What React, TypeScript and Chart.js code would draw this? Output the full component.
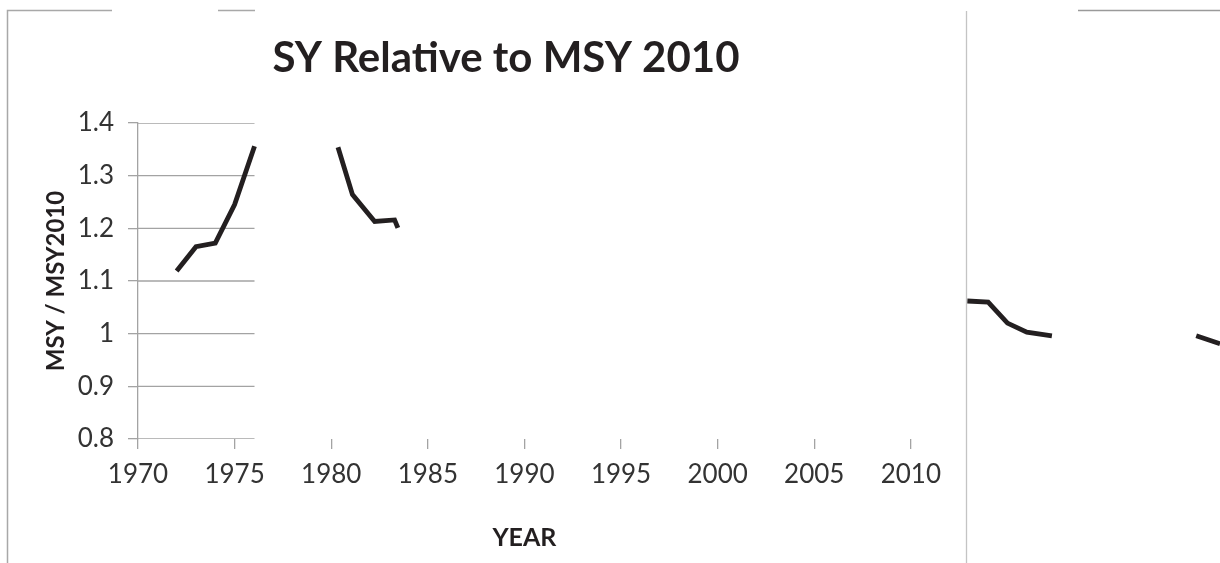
import React, { useEffect, useRef } from "react";
import { Chart, registerables } from "chart.js";

Chart.register(...registerables);

// ---- data ----
// visible line fragments (null = hidden gap)
const years: number[] = [
  1972, 1973, 1974, 1975, 1976.03,
  1978,
  1980.35, 1981.1, 1982.25, 1983.28, 1983.45,
  2000,
  2012.92, 2014, 2015, 2016, 2017.3,
  2020,
  2024.77, 2026,
];
const syRatio: (number | null)[] = [
  1.119, 1.165, 1.172, 1.245, 1.356,
  null,
  1.354, 1.264, 1.213, 1.216, 1.201,
  null,
  1.062, 1.06, 1.02, 1.003, 0.996,
  null,
  0.996, 0.981,
];
const yTickValues: number[] = [0.8, 0.9, 1.0, 1.1, 1.2, 1.3, 1.4];
const xTickYears: number[] = [1970, 1975, 1980, 1985, 1990, 1995, 2000, 2005, 2010];
const gridEndYear = 1976.03;

const TITLE = "SY Relative to MSY 2010";
const X_TITLE = "YEAR";
const Y_TITLE = "MSY / MSY2010";

const FONT = "Lato, 'Open Sans', sans-serif";
const GRID = "#a3a3a3";

const decorPlugin = {
  id: "decor",
  beforeDraw(chart: any) {
    const { ctx, width } = chart;
    ctx.save();
    ctx.fillStyle = "#ffffff";
    ctx.fillRect(0, 0, width, chart.height);
    ctx.restore();
  },
  afterDraw(chart: any) {
    const { ctx, height } = chart;
    const xs = chart.scales.x;
    ctx.save();
    // frame fragments
    ctx.strokeStyle = "#a8a8a8";
    ctx.lineWidth = 1.5;
    ctx.beginPath();
    ctx.moveTo(7.5, height);
    ctx.lineTo(7.5, 10.5);
    ctx.lineTo(112, 10.5);
    ctx.moveTo(218, 10.5);
    ctx.lineTo(255, 10.5);
    ctx.stroke();
    ctx.strokeStyle = "#c4c4c4";
    ctx.lineWidth = 1.3;
    ctx.beginPath();
    ctx.moveTo(966.5, 11);
    ctx.lineTo(966.5, height);
    ctx.stroke();
    ctx.strokeStyle = "#9a9a9a";
    ctx.lineWidth = 1.3;
    ctx.beginPath();
    ctx.moveTo(1078, 10.5);
    ctx.lineTo(chart.width, 10.5);
    ctx.stroke();

    // chart title
    ctx.fillStyle = "#231f20";
    ctx.textAlign = "center";
    ctx.textBaseline = "middle";
    ctx.font = `bold 42px ${FONT}`;
    ctx.fillText(TITLE, 506, 58);

    // x axis title, centred under the tick range
    const cx =
      (xs.getPixelForValue(xTickYears[0]) +
        xs.getPixelForValue(xTickYears[xTickYears.length - 1])) / 2;
    ctx.font = `bold 25px ${FONT}`;
    ctx.fillText(X_TITLE, cx, 538);
    ctx.restore();
  },
};

export default function App() {
  const ref = useRef<HTMLCanvasElement | null>(null);

  useEffect(() => {
    if (!ref.current) return;
    const points = years.map((x, i) => ({ x, y: syRatio[i] }));
    const gridSets = yTickValues.map((v) => ({
      type: "line" as const,
      data: [
        { x: xTickYears[0], y: v },
        { x: gridEndYear, y: v },
      ],
      borderColor: GRID,
      borderWidth: 1.3,
      pointRadius: 0,
      tension: 0,
    }));

    const chart = new Chart(ref.current, {
      type: "line",
      data: {
        datasets: [
          {
            data: points as any,
            borderColor: "#231f20",
            borderWidth: 4.8,
            pointRadius: 0,
            tension: 0,
            spanGaps: false,
            borderJoinStyle: "miter",
            borderCapStyle: "butt",
          },
          ...(gridSets as any),
        ],
      },
      options: {
        responsive: false,
        animation: false,
        events: [],
        layout: { padding: { top: 123, left: 0, right: 0, bottom: 0 } },
        plugins: {
          legend: { display: false },
          title: { display: false },
          tooltip: { enabled: false },
        },
        scales: {
          x: {
            type: "linear",
            min: 1970,
            max: 2026,
            afterBuildTicks: (scale: any) => {
              scale.ticks = xTickYears.map((v) => ({ value: v }));
            },
            afterFit: (scale: any) => {
              scale.height = 124;
            },
            border: { display: false },
            grid: {
              drawOnChartArea: false,
              drawTicks: true,
              tickLength: 10,
              color: GRID,
              lineWidth: 1.3,
            },
            ticks: {
              font: { family: FONT, size: 26 },
              color: "#333333",
              padding: 10,
              maxRotation: 0,
              callback: (v: any) => String(v),
            },
          },
          y: {
            min: 0.8,
            max: 1.4,
            afterBuildTicks: (scale: any) => {
              scale.ticks = yTickValues.map((v) => ({ value: v }));
            },
            afterFit: (scale: any) => {
              scale.width = 138;
            },
            border: { display: true, color: GRID, width: 1.3 },
            grid: {
              drawOnChartArea: false,
              drawTicks: true,
              tickLength: 10,
              color: GRID,
              lineWidth: 1.3,
            },
            ticks: {
              font: { family: FONT, size: 26 },
              color: "#333333",
              padding: 14,
              callback: (v: any) => String(Number(Number(v).toFixed(1))),
            },
            title: {
              display: true,
              text: Y_TITLE,
              font: { family: FONT, size: 24, weight: "bold" },
              color: "#231f20",
              padding: { top: 42, bottom: 0 },
            },
          },
        },
      },
      plugins: [decorPlugin],
    });
    return () => chart.destroy();
  }, []);

  return (
    <div style={{ position: "absolute", left: 0, top: 0, width: 1220, height: 563 }}>
      <canvas ref={ref} width={1220} height={563} />
    </div>
  );
}
